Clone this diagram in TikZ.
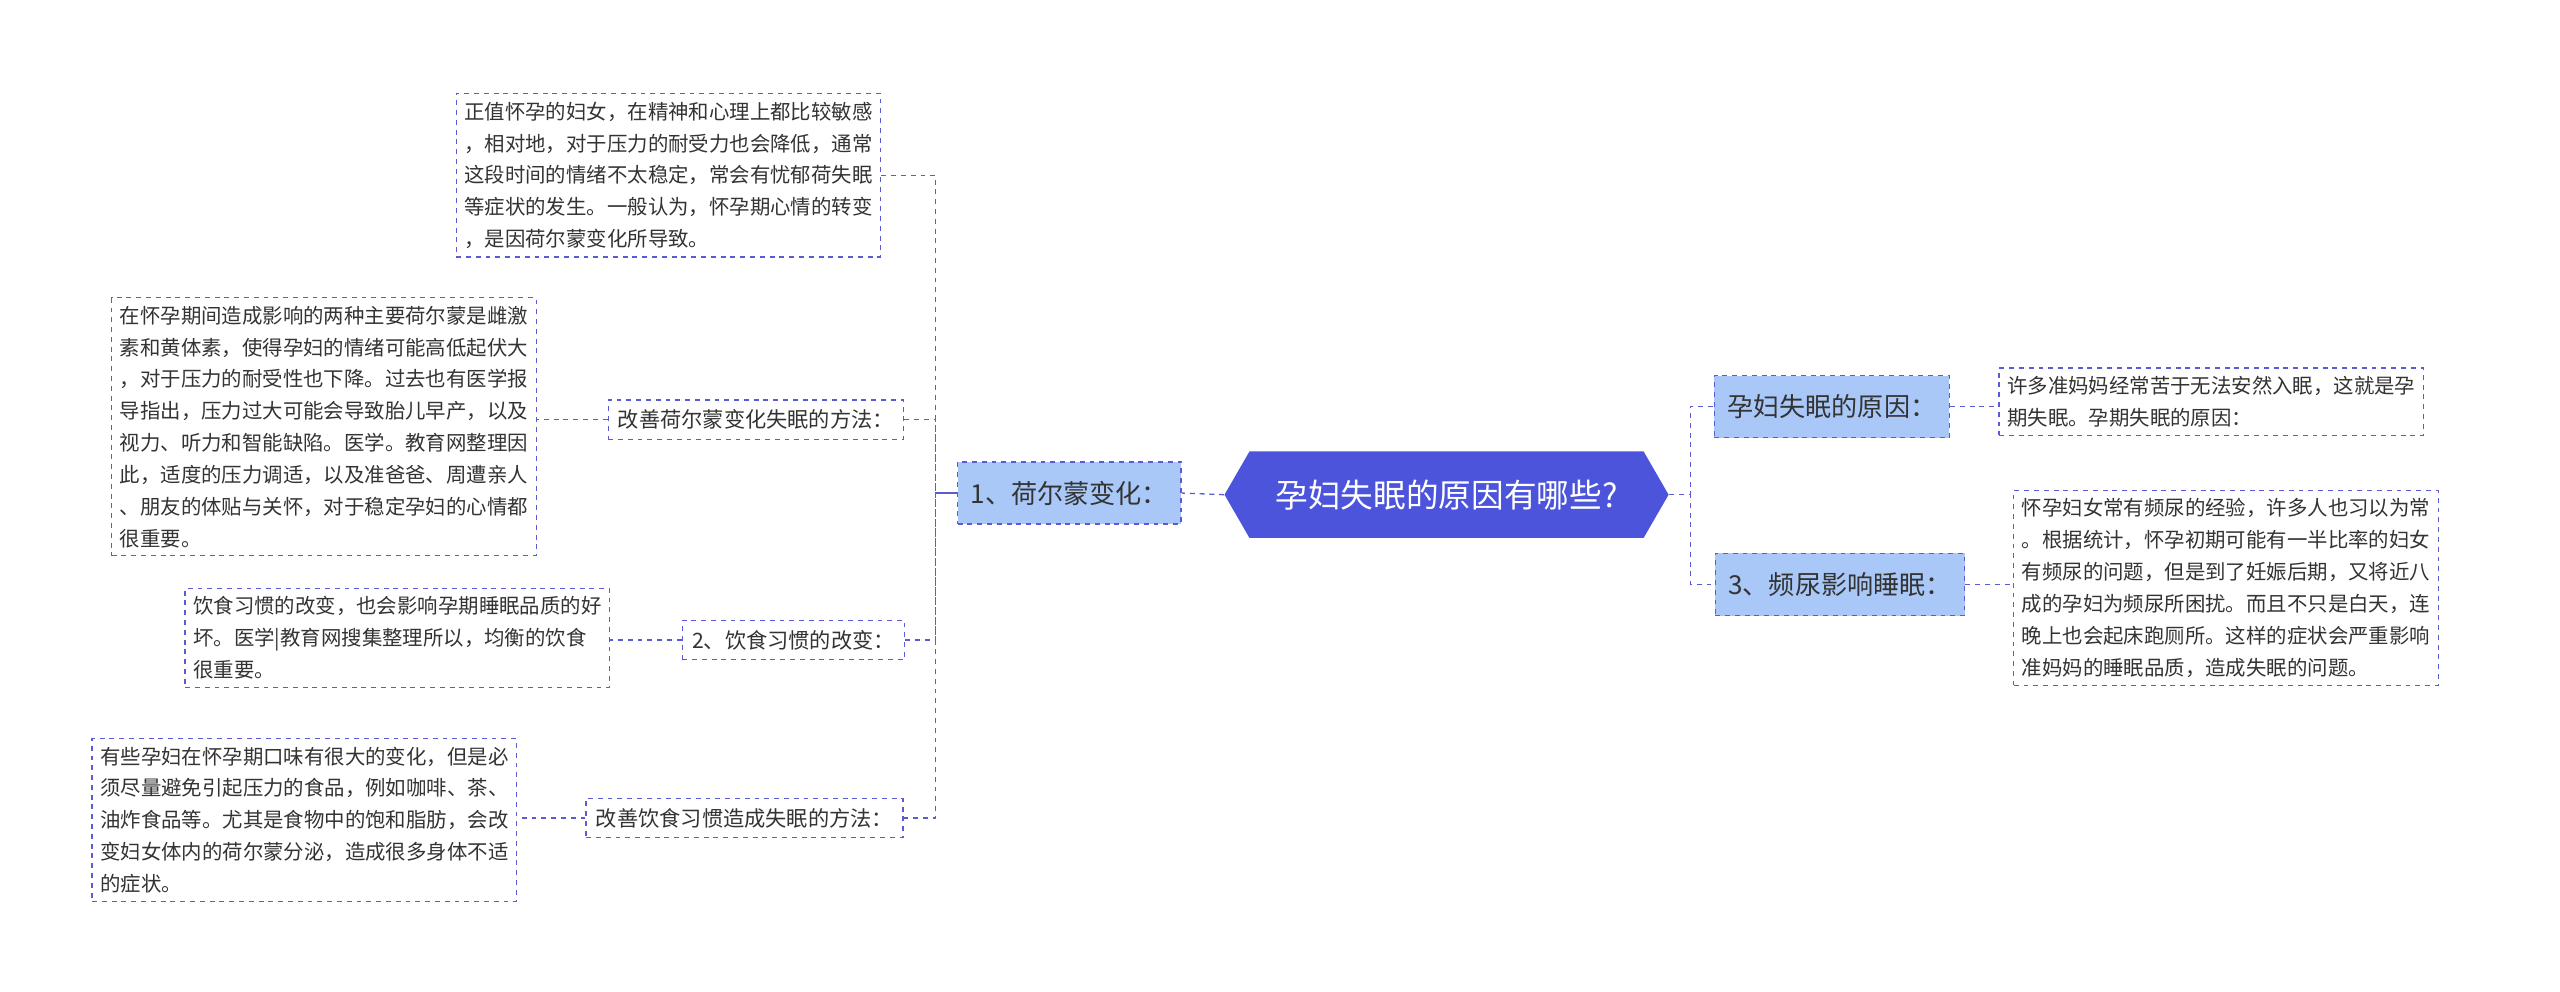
\documentclass[tikz,border=0pt]{standalone}
\usepackage{fontspec}
\setmainfont{Noto Sans CJK SC}
\usetikzlibrary{shapes.geometric,shapes.symbols,calc}
\definecolor{ln}{HTML}{5B5BD6}
\definecolor{rootc}{HTML}{4B54DB}
\definecolor{lb}{HTML}{A9C8F7}
\tikzset{
 conn/.style={draw=ln,dashed,line width=0.8pt},
 leaf/.style={draw=ln,dashed,line width=0.8pt,fill=white,align=left,font=\fontsize{12.5}{19.5}\selectfont,text=black!80,inner sep=5pt,anchor=north west},
 mid/.style={draw=ln,dashed,line width=0.8pt,fill=white,font=\fontsize{13}{16}\selectfont,text=black!80,inner sep=6pt},
 sub/.style={draw=ln,dashed,line width=0.8pt,fill=lb,font=\fontsize{16}{18}\selectfont,text=black!80,inner xsep=8pt,minimum height=38pt}
}
\begin{document}
\begin{tikzpicture}[x=1pt,y=-1pt]
\useasboundingbox (0,0) rectangle (1568,607);
\node[signal,signal to=west and east,signal pointer angle=120,fill=rootc,text=white,font=\fontsize{20}{22}\selectfont,minimum width=272pt,minimum height=53pt,inner sep=2pt] (root) at (886,303) {孕妇失眠的原因有哪些?};
\node[sub] (one) at (655,302) {1、荷尔蒙变化：};
\node[sub] (r1) at (1122,249) {孕妇失眠的原因：};
\node[sub] (r3) at (1127,358) {3、频尿影响睡眠：};
\node[leaf] (rl1) at (1224,225) {许多准妈妈经常苦于无法安然入眠，这就是孕\\期失眠。孕期失眠的原因：};
\node[leaf] (rl3) at (1233,300) {怀孕妇女常有频尿的经验，许多人也习以为常\\。根据统计，怀孕初期可能有一半比率的妇女\\有频尿的问题，但是到了妊娠后期，又将近八\\成的孕妇为频尿所困扰。而且不只是白天，连\\晚上也会起床跑厕所。这样的症状会严重影响\\准妈妈的睡眠品质，造成失眠的问题。};
\node[leaf] (top) at (279,57) {正值怀孕的妇女，在精神和心理上都比较敏感\\，相对地，对于压力的耐受力也会降低，通常\\这段时间的情绪不太稳定，常会有忧郁荷失眠\\等症状的发生。一般认为，怀孕期心情的转变\\，是因荷尔蒙变化所导致。};
\node[mid] (m1) at (463,257) {改善荷尔蒙变化失眠的方法：};
\node[mid] (m2) at (486,392) {2、饮食习惯的改变：};
\node[mid] (m3) at (456,501) {改善饮食习惯造成失眠的方法：};
\node[leaf] (l1) at (68,182) {在怀孕期间造成影响的两种主要荷尔蒙是雌激\\素和黄体素，使得孕妇的情绪可能高低起伏大\\，对于压力的耐受性也下降。过去也有医学报\\导指出，压力过大可能会导致胎儿早产，以及\\视力、听力和智能缺陷。医学。教育网整理因\\此，适度的压力调适，以及准爸爸、周遭亲人\\、朋友的体贴与关怀，对于稳定孕妇的心情都\\很重要。};
\node[leaf] (l2) at (113,360) {饮食习惯的改变，也会影响孕期睡眠品质的好\\坏。医学|教育网搜集整理所以，均衡的饮食\\很重要。};
\node[leaf] (l3) at (56,452) {有些孕妇在怀孕期口味有很大的变化，但是必\\须尽量避免引起压力的食品，例如咖啡、茶、\\油炸食品等。尤其是食物中的饱和脂肪，会改\\变妇女体内的荷尔蒙分泌，造成很多身体不适\\的症状。};
% connectors
\draw[conn] (root.west) -- (one.east);
\draw[conn] (root.east) -- ++(13,0) |- (r1.west);
\draw[conn] (root.east) -- ++(13,0) |- (r3.west);
\draw[conn] (r1.east) -- (rl1.west |- r1.east);
\draw[conn] (r3.east) -- (rl3.west |- r3.east);
\foreach \c in {top,m1,m2,m3}{
 \draw[conn] (\c.east) -| ($(one.west)+(-13,0)$) -- (one.west);
}
\draw[conn] (m1.west) -- (l1.east |- m1.west);
\draw[conn] (m2.west) -- (l2.east |- m2.west);
\draw[conn] (m3.west) -- (l3.east |- m3.west);
\end{tikzpicture}
\end{document}
